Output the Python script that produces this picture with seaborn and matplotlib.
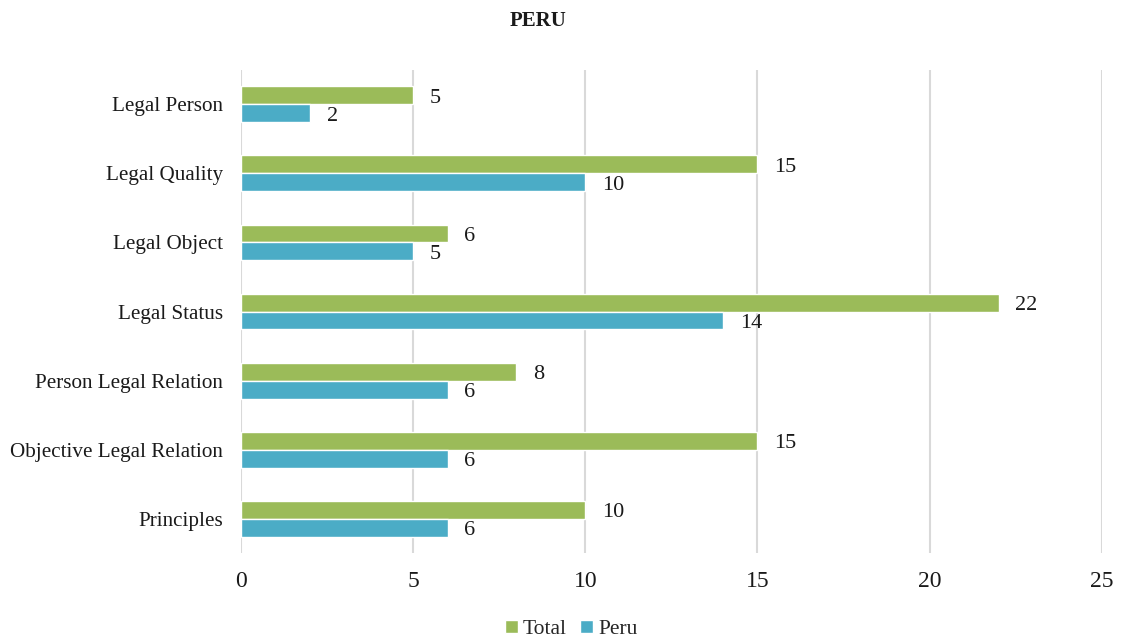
import matplotlib
matplotlib.use("Agg")
import matplotlib.pyplot as plt
import seaborn as sns
import pandas as pd
from matplotlib.patches import Patch

categories = ["Legal Person", "Legal Quality", "Legal Object", "Legal Status",
              "Person Legal Relation", "Objective Legal Relation", "Principles"]
total_values = [5, 15, 6, 22, 8, 15, 10]
peru_values = [2, 10, 5, 14, 6, 6, 6]
series_names = ["Total", "Peru"]
x_ticks = [0, 5, 10, 15, 20, 25]

df = pd.DataFrame({
    "category": categories * 2,
    "series": [series_names[0]] * len(categories) + [series_names[1]] * len(categories),
    "value": total_values + peru_values,
})

sns.set_theme(style="white")
plt.rcParams["font.family"] = ["Liberation Serif", "DejaVu Serif"]

fig = plt.figure(figsize=(11.22, 6.41), dpi=100)
ax = fig.add_axes([0.2148, 0.137, 0.7672, 0.754])

palette = {"Total": "#9BBB59", "Peru": "#4BACC6"}
sns.barplot(data=df, y="category", x="value", hue="series", order=categories,
            hue_order=series_names, palette=palette, orient="h", width=0.52,
            saturation=1, ax=ax, legend=False)

# value labels just past the end of each bar, nudged slightly down
for container in ax.containers:
    texts = ax.bar_label(container, labels=[f"{v:g}" for v in container.datavalues],
                         padding=12, fontsize=16, color="#1a1a1a")
    for t in texts:
        t.xyann = (12, -2.2)

ax.set_xlim(0, 25)
ax.set_ylim(6.5, -0.5)
ax.set_xticks(x_ticks)
ax.set_xticklabels([str(t) for t in x_ticks], fontsize=17, color="#1a1a1a")
ax.tick_params(axis="y", labelsize=15.2, colors="#1a1a1a", length=0, pad=13)
ax.tick_params(axis="x", length=0, pad=13)
ax.set_xlabel("")
ax.set_ylabel("")
ax.xaxis.grid(True, color="#d9d9d9", linewidth=1.5)
ax.set_axisbelow(True)
for s in ax.spines.values():
    s.set_visible(False)

fig.text(0.48, 0.968, "PERU", ha="center", va="center", fontsize=15,
         fontweight="bold", color="#1a1a1a")

handles = [Patch(facecolor=palette[n], label=n) for n in series_names]
fig.legend(handles=handles, loc="center", bbox_to_anchor=(0.509, 0.018), ncol=2,
           frameon=False, fontsize=15.5, handlelength=0.6, handleheight=0.6,
           handletextpad=0.25, columnspacing=0.6, borderpad=0)

fig.savefig("out.png", dpi=100, facecolor="white")
